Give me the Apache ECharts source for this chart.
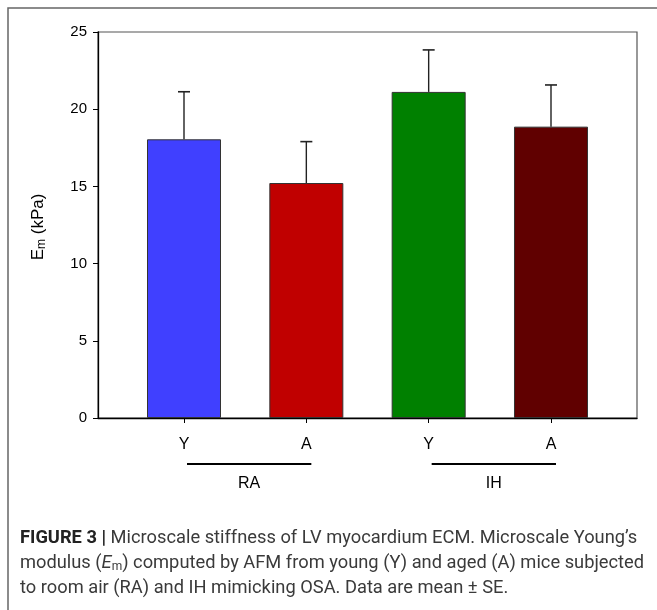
<!DOCTYPE html>
<html>
<head>
<meta charset="utf-8">
<script src="https://cdn.jsdelivr.net/npm/echarts@6/dist/echarts.min.js"></script>
<style>
html,body{margin:0;padding:0;background:#fff;}
#chart{width:657px;height:610px;}
</style>
</head>
<body>
<div id="chart"></div>
<script>
// ---- data ----
const categories = ['Y', 'A', 'Y', 'A'];
const positions = [1, 2, 3, 4];
const means = [18.05, 15.22, 21.12, 18.87];
const errors = [3.08, 2.68, 2.72, 2.70];
const barColors = ['#4040FF', '#C00000', '#008000', '#600000'];
const groups = ['RA', 'IH'];
const groupSpans = [[1, 2], [3, 4]];
const yTicks = [0, 5, 10, 15, 20, 25];

const chart = echarts.init(document.getElementById('chart'), null, {renderer: 'canvas'});

const barData = positions.map((p, i) => ({
  value: [p, means[i]],
  itemStyle: {color: barColors[i]}
}));
const errData = positions.map((p, i) => [p, means[i], means[i] + errors[i]]);

const FONT = 'Liberation Sans, Arial';
const option = {
  animation: false,
  backgroundColor: '#fff',
  grid: {
    left: 98, top: 32, right: 20, bottom: 192,
    show: true, borderColor: '#555', borderWidth: 1.2, backgroundColor: 'transparent'
  },
  xAxis: {
    type: 'value', min: 0.297, max: 4.703,
    splitLine: {show: false},
    axisLine: {show: true, onZero: false, lineStyle: {color: '#000', width: 1.3}},
    axisTick: {show: true, customValues: positions, length: 5, lineStyle: {color: '#000'}},
    axisLabel: {
      customValues: positions,
      formatter: v => categories[positions.indexOf(Math.round(v))] || '',
      fontFamily: FONT, fontSize: 16, color: '#000', margin: 19
    }
  },
  yAxis: {
    type: 'value', min: 0, max: 25, interval: 5,
    splitLine: {show: false},
    axisLine: {show: true, lineStyle: {color: '#000', width: 1.3}},
    axisTick: {show: true, inside: false, length: 5, lineStyle: {color: '#000'}},
    axisLabel: {
      formatter: v => yTicks.includes(v) ? String(v) : '',
      fontFamily: FONT, fontSize: 15, color: '#000', margin: 11
    }
  },
  series: [
    {
      type: 'bar',
      data: barData,
      barWidth: 74,
      itemStyle: {borderColor: '#333', borderWidth: 1},
      z: 2
    },
    {
      type: 'custom',
      data: errData,
      z: 3,
      renderItem: function (params, api) {
        const x = api.value(0);
        const lo = api.coord([x, api.value(1)]);
        const hi = api.coord([x, api.value(2)]);
        const cap = 6;
        return {
          type: 'group',
          children: [
            {type: 'line', shape: {x1: lo[0], y1: lo[1], x2: hi[0], y2: hi[1]}, style: {stroke: '#222', lineWidth: 1.4}},
            {type: 'line', shape: {x1: hi[0] - cap, y1: hi[1], x2: hi[0] + cap, y2: hi[1]}, style: {stroke: '#222', lineWidth: 1.6}}
          ]
        };
      }
    }
  ]
};
chart.setOption(option);

// group underlines and labels, positioned through the axis scale
const graphics = [];
const lineY = 464, labelY = 484;
groups.forEach((g, i) => {
  const x1 = chart.convertToPixel({xAxisIndex: 0}, groupSpans[i][0]) + 3;
  const x2 = chart.convertToPixel({xAxisIndex: 0}, groupSpans[i][1]) + 5;
  graphics.push({
    type: 'line', shape: {x1: x1, y1: lineY, x2: x2, y2: lineY},
    style: {stroke: '#000', lineWidth: 2}
  });
  graphics.push({
    type: 'text', x: (x1 + x2) / 2, y: labelY,
    style: {text: g, fontFamily: FONT, fontSize: 16, fill: '#000', align: 'center', verticalAlign: 'middle'}
  });
});
// y-axis title
graphics.push({
  type: 'text', x: 38, y: 227, rotation: Math.PI / 2,
  style: {
    text: '{e|E}{s|m}{e| (kPa)}', align: 'center', verticalAlign: 'middle',
    rich: {
      e: {fontFamily: FONT, fontSize: 17, fill: '#000'},
      s: {fontFamily: FONT, fontSize: 12, fill: '#000', verticalAlign: 'bottom', padding: [8, 0, 0, 0]}
    }
  }
});
// outer frame
graphics.push({
  type: 'rect', shape: {x: 8, y: 8, width: 700, height: 700},
  style: {fill: 'none', stroke: '#666', lineWidth: 1.5}, z: -1
});
// caption
const capFont = 'Roboto, Arial';
const CS = 18.3;
const rich = {
  b: {fontFamily: capFont, fontSize: CS, fontWeight: 'bold', fill: '#222'},
  n: {fontFamily: capFont, fontSize: CS, fill: '#3a3a3a'},
  i: {fontFamily: capFont, fontSize: CS, fill: '#3a3a3a', fontStyle: 'italic'},
  s: {fontFamily: capFont, fontSize: 12, fill: '#3a3a3a', verticalAlign: 'bottom', padding: [7, 0, 0, 0]}
};
const captionLines = [
  '{b|FIGURE 3 |}{n| Microscale stiffness of LV myocardium ECM. Microscale Young\u2019s}',
  '{n|modulus (}{i|E}{s|m}{n|) computed by AFM from young (Y) and aged (A) mice subjected}',
  '{n|to room air (RA) and IH mimicking OSA. Data are mean \u00B1 SE.}'
];
captionLines.forEach((t, i) => {
  graphics.push({
    type: 'text', x: 20, y: 538 + i * 25,
    style: {text: t, rich: rich, verticalAlign: 'middle', align: 'left'}
  });
});
chart.setOption({graphic: graphics});
</script>
</body>
</html>
